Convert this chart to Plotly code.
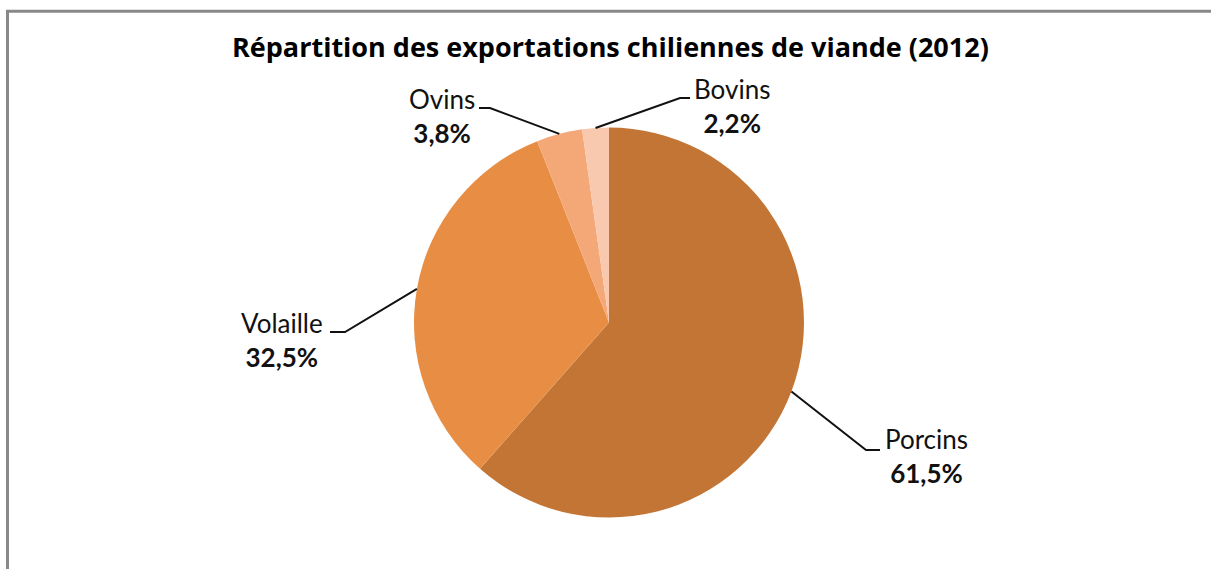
import math
import plotly.graph_objects as go

# ---- data ----
categories = ["Porcins", "Volaille", "Ovins", "Bovins"]
values = [61.5, 32.5, 3.8, 2.2]
value_labels = ["61,5%", "32,5%", "3,8%", "2,2%"]
colors = ["#C37535", "#E88E44", "#F4A878", "#F8C9AE"]

W, H = 1211, 569
FONT = "Lato"
TITLE_FONT = "Open Sans"

# pie placement (pixels)
cx, cy, r = 609, 322.5, 195

def px(x):
    return x / W

def py(y):
    return 1 - y / H

fig = go.Figure(go.Pie(
    labels=categories, values=values, sort=False, direction="clockwise",
    rotation=0, textinfo="none", hoverinfo="label+percent",
    marker=dict(colors=colors, line=dict(width=0)),
    domain=dict(x=[px(cx - r), px(cx + r)], y=[py(cy + r), py(cy - r)]),
    showlegend=False,
))

# leader line elbows / horizontal ends and label anchors (pixels): layout only
leader = {
    "Porcins": dict(elbow=(866, 450), end=(880, 450), text=(926, 456)),
    "Volaille": dict(elbow=(345, 332), end=(330, 332), text=(282, 340)),
    "Ovins": dict(elbow=(490, 108), end=(479, 108), text=(442, 116)),
    "Bovins": dict(elbow=(680, 98), end=(690, 98), text=(732, 106)),
}

total = sum(values)
cum = 0.0
shapes = []
annotations = []
for cat, v, lab in zip(categories, values, value_labels):
    mid = (cum + v / 2) / total * 2 * math.pi
    cum += v
    sx = cx + r * math.sin(mid)
    sy = cy - r * math.cos(mid)
    L = leader[cat]
    path = "M {} {} L {} {} L {} {}".format(
        px(sx), py(sy), px(L["elbow"][0]), py(L["elbow"][1]),
        px(L["end"][0]), py(L["end"][1]))
    shapes.append(dict(type="path", xref="paper", yref="paper", path=path,
                       line=dict(color="#111111", width=2)))
    annotations.append(dict(
        x=px(L["text"][0]), y=py(L["text"][1]), xref="paper", yref="paper",
        text=cat + "<br><b>" + lab + "</b>", showarrow=False,
        font=dict(family=FONT, size=26, color="#111111"),
        align="center", xanchor="center", yanchor="middle"))

# frame (top and left edges)
shapes.append(dict(type="line", xref="paper", yref="paper",
                   x0=px(6), x1=1.0, y0=py(11.3), y1=py(11.3),
                   line=dict(color="#888888", width=3)))
shapes.append(dict(type="line", xref="paper", yref="paper",
                   x0=px(7.5), x1=px(7.5), y0=py(10), y1=0,
                   line=dict(color="#888888", width=3)))

annotations.append(dict(
    x=px(610), y=py(47), xref="paper", yref="paper",
    text="<b>Répartition des exportations chiliennes de viande (2012)</b>",
    showarrow=False, font=dict(family=TITLE_FONT, size=27, color="#000000"),
    xanchor="center", yanchor="middle"))

fig.update_layout(
    width=W, height=H, margin=dict(l=0, r=0, t=0, b=0),
    paper_bgcolor="white", plot_bgcolor="white",
    shapes=shapes, annotations=annotations,
)

fig.write_html("out.html", config={"displayModeBar": False},
               post_script="document.body.style.margin='0';document.body.style.overflow='hidden';")
